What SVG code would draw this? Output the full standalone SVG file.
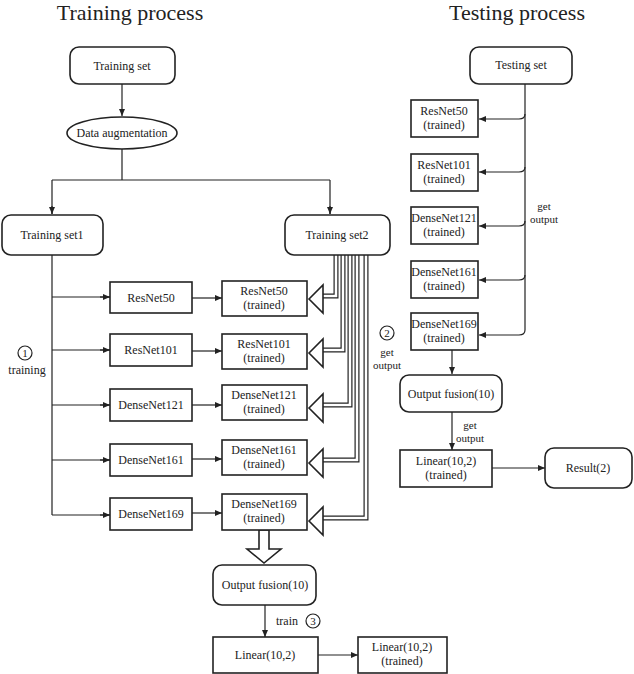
<svg xmlns="http://www.w3.org/2000/svg" width="634" height="674" viewBox="0 0 634 674">
<style>
text{font-family:"Liberation Serif","DejaVu Serif",serif;font-size:12px;fill:#222;text-anchor:middle}
.t{font-size:22px}
.s{font-size:11px}
.b{fill:#fff;stroke:#222;stroke-width:1.6}
.l{fill:none;stroke:#222;stroke-width:1.2}
.h1{fill:none;stroke:#222;stroke-width:5}
.h2{fill:none;stroke:#fff;stroke-width:2.6}
</style>
<defs><marker id="a" markerWidth="8" markerHeight="8" refX="7" refY="4" orient="auto" markerUnits="userSpaceOnUse"><path d="M0,1 L7,4 L0,7Z" fill="#222"/></marker></defs>
<text class="t" x="130" y="20">Training process</text>
<text class="t" x="517" y="20">Testing process</text>
<g id="connectors">
<path class="l" d="M122,84 V116" marker-end="url(#a)"/>
<path class="l" d="M122,149 V180 M52,180 H330 M52,180 V214 M330,180 V214"/>
<path class="l" d="M52,206 V214" marker-end="url(#a)"/><path class="l" d="M330,206 V214" marker-end="url(#a)"/>
<path class="l" d="M52,255 V515 M52,297 H110 M52,350 H110 M52,405 H110 M52,460 H110 M52,515 H110"/>
<path class="l" d="M100,297 H110" marker-end="url(#a)"/><path class="l" d="M100,350 H110" marker-end="url(#a)"/><path class="l" d="M100,405 H110" marker-end="url(#a)"/><path class="l" d="M100,460 H110" marker-end="url(#a)"/><path class="l" d="M100,515 H110" marker-end="url(#a)"/>
<path class="l" d="M192,298 H222" marker-end="url(#a)"/><path class="l" d="M192,351 H222" marker-end="url(#a)"/><path class="l" d="M192,405 H222" marker-end="url(#a)"/><path class="l" d="M192,459 H222" marker-end="url(#a)"/><path class="l" d="M192,513 H222" marker-end="url(#a)"/>
<g>
<path class="h1" d="M366,255 V518 H322"/><path class="h2" d="M366,255 V518 H320"/>
<path class="h1" d="M357,255 V460 H322"/><path class="h2" d="M357,255 V460 H320"/>
<path class="h1" d="M350,255 V405 H322"/><path class="h2" d="M350,255 V405 H320"/>
<path class="h1" d="M343,255 V350 H322"/><path class="h2" d="M343,255 V350 H320"/>
<path class="h1" d="M336,255 V296 H322"/><path class="h2" d="M336,255 V296 H320"/>
<polygon class="b" points="309,299 323,285 323,313"/>
<polygon class="b" points="309,353 323,339 323,367"/>
<polygon class="b" points="309,408 323,394 323,422"/>
<polygon class="b" points="309,463 323,449 323,477"/>
<polygon class="b" points="309,521 323,507 323,535"/>
</g>
<polygon class="b" points="259,530 269,530 269,549 281,549 264,563 247,549 259,549"/>
<path class="l" d="M265,605 V637" marker-end="url(#a)"/>
<path class="l" d="M318,655 H358" marker-end="url(#a)"/>
<path class="l" d="M525,84 V330 Q525,335 519,335 H479" marker-end="url(#a)"/>
<path class="l" d="M525,114 Q525,119 519,119 H479" marker-end="url(#a)"/>
<path class="l" d="M525,167 Q525,172 519,172 H479" marker-end="url(#a)"/>
<path class="l" d="M525,221 Q525,226 519,226 H479" marker-end="url(#a)"/>
<path class="l" d="M525,275 Q525,280 519,280 H479" marker-end="url(#a)"/>
<path class="l" d="M452,350 V374" marker-end="url(#a)"/>
<path class="l" d="M452,412 V450" marker-end="url(#a)"/>
<path class="l" d="M492,468 H545" marker-end="url(#a)"/>
</g>
<g id="train-set"><rect class="b" x="70" y="47" width="105" height="37" rx="9"/><text x="122" y="70">Training set</text></g>
<g id="aug"><ellipse class="b" cx="122" cy="133" rx="55" ry="16"/><text x="122" y="137">Data augmentation</text></g>
<g id="ts1"><rect class="b" x="2" y="215" width="101" height="40" rx="9"/><text x="52" y="239">Training set1</text></g>
<g id="ts2"><rect class="b" x="285" y="215" width="105" height="40" rx="9"/><text x="337" y="239">Training set2</text></g>
<g id="r50"><rect class="b" x="110" y="282" width="82" height="31"/><text x="151" y="302">ResNet50</text></g>
<g id="r101"><rect class="b" x="110" y="334" width="82" height="32"/><text x="151" y="354">ResNet101</text></g>
<g id="d121"><rect class="b" x="110" y="389" width="82" height="32"/><text x="151" y="409">DenseNet121</text></g>
<g id="d161"><rect class="b" x="110" y="444" width="82" height="32"/><text x="151" y="464">DenseNet161</text></g>
<g id="d169"><rect class="b" x="110" y="498" width="82" height="32"/><text x="151" y="518">DenseNet169</text></g>
<g id="r50t"><rect class="b" x="222" y="281" width="85" height="35"/><text x="264" y="295">ResNet50</text><text x="264" y="309">(trained)</text></g>
<g id="r101t"><rect class="b" x="222" y="334" width="85" height="35"/><text x="264" y="348">ResNet101</text><text x="264" y="362">(trained)</text></g>
<g id="d121t"><rect class="b" x="222" y="385" width="85" height="35"/><text x="264" y="399">DenseNet121</text><text x="264" y="413">(trained)</text></g>
<g id="d161t"><rect class="b" x="222" y="440" width="85" height="35"/><text x="264" y="454">DenseNet161</text><text x="264" y="468">(trained)</text></g>
<g id="d169t"><rect class="b" x="222" y="494" width="85" height="36"/><text x="264" y="508">DenseNet169</text><text x="264" y="522">(trained)</text></g>
<g id="lbl1"><circle class="l" cx="25" cy="353" r="7"/><text x="25" y="357" class="s">1</text><text x="27" y="374">training</text></g>
<g id="lbl2"><circle class="l" cx="387" cy="333" r="7"/><text x="387" y="337" class="s">2</text><text x="387" y="356" class="s">get</text><text x="387" y="369" class="s">output</text></g>
<g id="fuse"><rect class="b" x="213" y="565" width="103" height="40" rx="9"/><text x="265" y="589">Output fusion(10)</text></g>
<g id="lbl3"><text x="287" y="625">train</text><circle class="l" cx="313" cy="621" r="7"/><text x="313" y="625" class="s">3</text></g>
<g id="lin"><rect class="b" x="213" y="637" width="105" height="36"/><text x="265" y="659">Linear(10,2)</text></g>
<g id="lint"><rect class="b" x="358" y="637" width="89" height="36"/><text x="402" y="651">Linear(10,2)</text><text x="402" y="665">(trained)</text></g>
<g id="test-set"><rect class="b" x="470" y="47" width="102" height="37" rx="9"/><text x="521" y="69">Testing set</text></g>
<g id="tr50"><rect class="b" x="411" y="100" width="67" height="37"/><text x="444" y="115">ResNet50</text><text x="444" y="129">(trained)</text></g>
<g id="tr101"><rect class="b" x="411" y="154" width="67" height="37"/><text x="444" y="169">ResNet101</text><text x="444" y="183">(trained)</text></g>
<g id="td121"><rect class="b" x="411" y="207" width="67" height="37"/><text x="444" y="222">DenseNet121</text><text x="444" y="236">(trained)</text></g>
<g id="td161"><rect class="b" x="411" y="261" width="67" height="37"/><text x="444" y="276">DenseNet161</text><text x="444" y="290">(trained)</text></g>
<g id="td169"><rect class="b" x="411" y="313" width="67" height="37"/><text x="444" y="328">DenseNet169</text><text x="444" y="342">(trained)</text></g>
<text x="544" y="210" class="s">get</text><text x="544" y="223" class="s">output</text>
<g id="tfuse"><rect class="b" x="400" y="375" width="102" height="37" rx="9"/><text x="451" y="398">Output fusion(10)</text></g>
<text x="470" y="429" class="s">get</text><text x="470" y="442" class="s">output</text>
<g id="tlin"><rect class="b" x="400" y="450" width="92" height="37"/><text x="446" y="465">Linear(10,2)</text><text x="446" y="479">(trained)</text></g>
<g id="res"><rect class="b" x="545" y="448" width="87" height="40" rx="9"/><text x="588" y="472">Result(2)</text></g>
</svg>
